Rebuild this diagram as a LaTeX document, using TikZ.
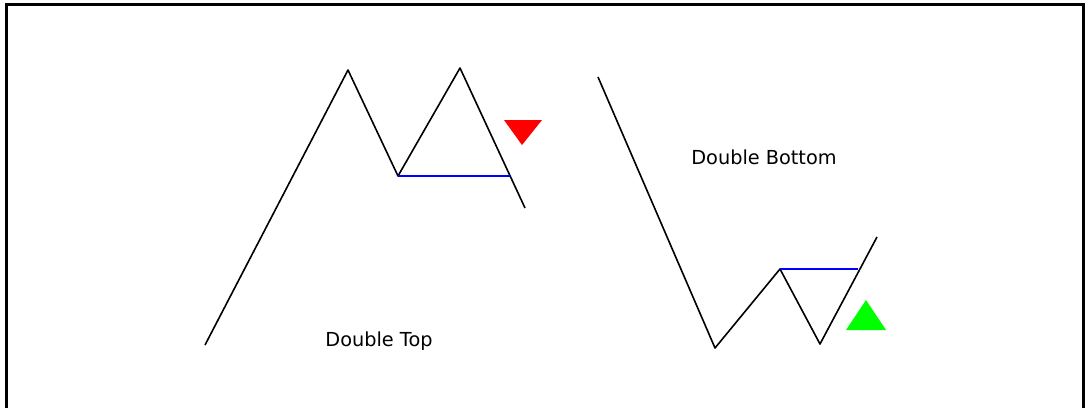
\documentclass[tikz,border=0pt]{standalone}
\usepackage{fontspec}
\setmainfont{DejaVu Sans}
\begin{document}
\begin{tikzpicture}[x=1pt,y=-1pt,
  chart/.style={line width=1.6pt,black},
  neck/.style={line width=1.6pt,blue},
  lbl/.style={font=\fontsize{19.3}{21}\selectfont,inner sep=0pt}]
\useasboundingbox (0,0) rectangle (1085,408);
\fill[white] (0,0) rectangle (1085,408);
% frame (open at bottom)
\draw[line width=3pt] (6,408) -- (6,4) -- (1083.5,4) -- (1083.5,408);
% Double Top
\coordinate (t0) at (205,345);
\coordinate (t1) at (348,70);
\coordinate (t2) at (398,176);
\coordinate (t3) at (460,68);
\coordinate (t4) at (525,208);
\coordinate (tn) at (510,176);
\draw[chart,line join=round] (t0) -- (t1) -- (t2) -- (t3) -- (t4);
\draw[neck] (t2) -- (tn);
\fill[red] (504,120) coordinate (r1) -- (542,120) coordinate (r2) -- (522,145) coordinate (r3) -- cycle;
\node[lbl] (dt) at (379,341) {Double Top};
% Double Bottom
\coordinate (b0) at (598,77);
\coordinate (b1) at (715,348);
\coordinate (b2) at (780,269);
\coordinate (b3) at (820,344);
\coordinate (b4) at (877,237);
\coordinate (bn) at (858,269);
\draw[chart,line join=round] (b0) -- (b1) -- (b2) -- (b3) -- (b4);
\draw[neck] (b2) -- (bn);
\fill[green] (846,330) coordinate (g1) -- (886,330) coordinate (g2) -- (866,300) coordinate (g3) -- cycle;
\node[lbl] (db) at (764,157) {Double Bottom};
\end{tikzpicture}
\end{document}
